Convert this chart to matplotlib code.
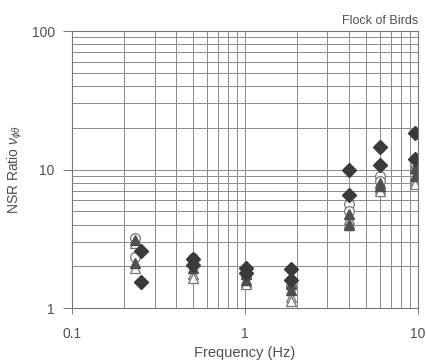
import matplotlib.pyplot as plt
import matplotlib.ticker as mticker
import numpy as np

plt.rcParams['font.family'] = ['Liberation Sans', 'DejaVu Sans']
plt.rcParams['mathtext.fontset'] = 'custom'
plt.rcParams['mathtext.rm'] = 'Liberation Sans'
plt.rcParams['mathtext.it'] = 'Liberation Sans:italic'

# frequencies of each measurement group (Hz)
freq = [0.23, 0.5, 1.02, 1.85, 4.0, 6.0, 9.6]
freq_diamond = [0.25, 0.5, 1.02, 1.85, 4.0, 6.0, 9.6]

# NSR ratio values, two records per marker type
diamond_a = [2.6, 2.25, 1.95, 1.9, 10.0, 14.5, 18.5]
diamond_b = [1.55, 2.05, 1.8, 1.6, 6.5, 10.8, 12.0]
circle_a = [3.2, 2.3, 1.8, 1.6, 5.6, 9.0, 11.2]
circle_b = [2.35, 2.2, 1.7, 1.45, 5.0, 8.3, 10.0]
tri_fill_a = [3.1, 2.15, 1.75, 1.5, 4.8, 8.0, 10.2]
tri_fill_b = [2.1, 1.95, 1.6, 1.35, 4.0, 7.6, 9.0]
tri_open_a = [2.95, 1.75, 1.55, 1.2, 4.4, 7.3, 8.4]
tri_open_b = [1.95, 1.65, 1.5, 1.13, 4.1, 7.0, 7.8]

fig = plt.figure(figsize=(4.26, 3.63), dpi=100)
ax = fig.add_axes([0.169, 0.1515, 0.812, 0.763])

ax.set_xscale('log')
ax.set_yscale('log')
ax.set_xlim(0.1, 10)
ax.set_ylim(1, 100)

# full log grid in both directions
ax.grid(True, which='both', color='#8a8a8a', linewidth=0.7)
ax.set_axisbelow(True)

for vals in (circle_a, circle_b):
    ax.plot(freq, vals, 'o', ms=7, mfc='white', mec='#777777', mew=0.9, ls='none')
for vals in (tri_open_a, tri_open_b):
    ax.plot(freq, vals, '^', ms=6.5, mfc='white', mec='#777777', mew=0.9, ls='none')
for vals in (tri_fill_a, tri_fill_b):
    ax.plot(freq, vals, '^', ms=6.5, mfc='#505050', mec='#505050', ls='none')
for vals in (diamond_a, diamond_b):
    ax.plot(freq_diamond, vals, 'D', ms=7, mfc='#3a3a3a', mec='#3a3a3a', ls='none')

ax.xaxis.set_major_locator(mticker.FixedLocator([0.1, 1, 10]))
ax.xaxis.set_major_formatter(mticker.FixedFormatter(['0.1', '1', '10']))
ax.xaxis.set_minor_locator(mticker.LogLocator(base=10, subs=np.arange(2, 10)))
ax.xaxis.set_minor_formatter(mticker.NullFormatter())
ax.yaxis.set_major_locator(mticker.FixedLocator([1, 10, 100]))
ax.yaxis.set_major_formatter(mticker.FixedFormatter(['1', '10', '100']))
ax.yaxis.set_minor_locator(mticker.LogLocator(base=10, subs=np.arange(2, 10)))
ax.yaxis.set_minor_formatter(mticker.NullFormatter())

ax.tick_params(which='minor', length=0)
ax.tick_params(axis='y', which='major', length=6.5, width=0.7, color='#777777',
               pad=6, labelsize=10, labelcolor='#505050')
ax.tick_params(axis='x', which='major', length=4, width=0.7, color='#777777',
               pad=10, labelsize=10, labelcolor='#505050')

for side in ax.spines.values():
    side.set_color('#777777')
    side.set_linewidth(0.8)

ax.set_xlabel('Frequency (Hz)', fontsize=10.5, color='#505050', labelpad=3)
ax.set_ylabel(r'NSR Ratio $\nu_{\phi\theta}$', fontsize=10, color='#505050', labelpad=5)
ax.set_title('Flock of Birds', loc='right', fontsize=9, color='#505050', pad=5)

fig.savefig('out.png', dpi=100)
